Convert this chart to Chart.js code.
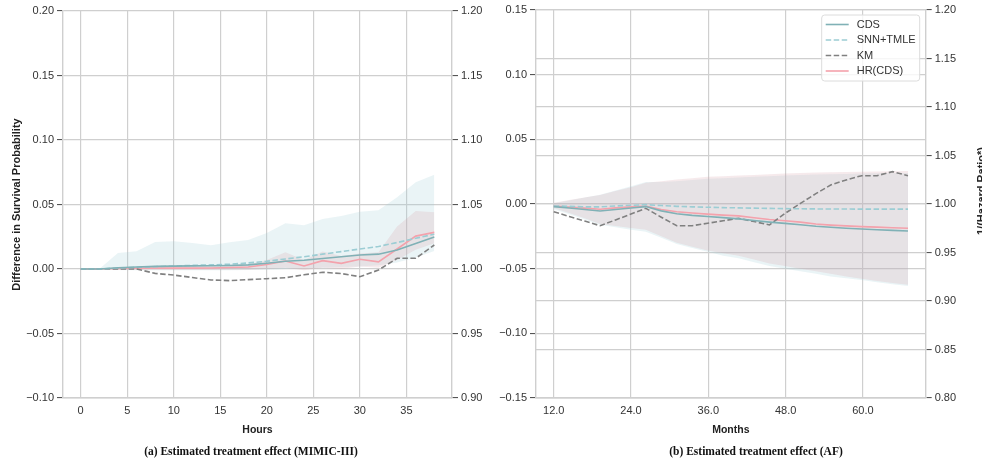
<!DOCTYPE html>
<html>
<head>
<meta charset="utf-8">
<script src="https://cdn.jsdelivr.net/npm/chart.js@4.4.0/dist/chart.umd.min.js"></script>
<style>
  body { margin: 0; width: 982px; height: 462px; overflow: hidden; background: #fff; position: relative; }
  #boxA { position: absolute; left: 0; top: 0; }
  #boxB { position: absolute; left: 490px; top: 0; }
  .caption { position: absolute; top: 443px; width: 240px; text-align: center;
             font: bold 11.5px 'Liberation Serif', 'Times New Roman', serif; color: #111; line-height: 16px; }
  #hrTitle { position: absolute; left: 981px; top: 191px; transform: translate(-50%, -50%) rotate(-90deg);
             font: bold 11px 'Liberation Sans', Arial, sans-serif; color: #222; white-space: nowrap; }
</style>
</head>
<body>
<div id="boxA"><canvas id="chartA" width="490" height="462"></canvas></div>
<div id="boxB"><canvas id="chartB" width="492" height="462"></canvas></div>
<div class="caption" style="left:131px">(a) Estimated treatment effect (MIMIC-III)</div>
<div class="caption" style="left:636px">(b) Estimated treatment effect (AF)</div>
<div id="hrTitle">1/(Hazard Ratio*)</div>
<script>
// ---- (a) MIMIC-III, hours ----
const hoursA = [0, 2, 4, 6, 8, 10, 12, 14, 16, 18, 20, 22, 24, 26, 28, 30, 32, 34, 36, 38];
const cdsA   = [0, 0, 0.001, 0.0015, 0.002, 0.0022, 0.0024, 0.0025, 0.0027, 0.0032, 0.0045, 0.006, 0.0068, 0.0082, 0.0095, 0.0108, 0.0115, 0.0147, 0.0198, 0.0248];
const cdsHiA = [0, 0, 0.0125, 0.0138, 0.021, 0.0215, 0.0202, 0.0185, 0.0208, 0.0225, 0.028, 0.0354, 0.034, 0.0388, 0.041, 0.0444, 0.0455, 0.0556, 0.0672, 0.0731];
const cdsLoA = [0, 0, -0.0008, -0.001, -0.001, -0.001, -0.001, -0.001, -0.001, -0.0008, -0.0005, 0, 0.0005, 0.001, 0.0015, 0.002, 0.003, 0.005, 0.009, 0.014];
const snnA   = [0, 0, 0.0008, 0.0013, 0.0018, 0.0023, 0.0028, 0.0032, 0.0037, 0.0047, 0.006, 0.0078, 0.0095, 0.0115, 0.0135, 0.0155, 0.0175, 0.0205, 0.0238, 0.027];
const kmA    = [0, 0, 0, 0, -0.0034, -0.0047, -0.0066, -0.0085, -0.009, -0.0082, -0.0075, -0.0068, -0.0045, -0.0025, -0.0035, -0.006, -0.0008, 0.0083, 0.0083, 0.0186];
const hrA    = [0, 0, 0.0004, 0.0006, 0.0007, 0.0007, 0.0007, 0.0008, 0.0012, 0.0015, 0.0035, 0.0062, 0.0023, 0.0065, 0.0044, 0.0075, 0.0055, 0.0155, 0.0255, 0.0284];
const hrHiA  = [0, 0, 0.0012, 0.0015, 0.0025, 0.0025, 0.0025, 0.0025, 0.003, 0.0035, 0.007, 0.013, 0.007, 0.0135, 0.01, 0.012, 0.013, 0.033, 0.045, 0.044];
const hrLoA  = [0, 0, -0.0005, -0.0008, -0.0008, -0.0008, -0.0008, -0.0008, -0.0006, -0.0005, 0, 0.001, -0.001, 0.001, 0, 0.002, 0.001, 0.007, 0.015, 0.02];

const xTicksA  = [0, 5, 10, 15, 20, 25, 30, 35];
const yTicksA  = [-0.10, -0.05, 0.00, 0.05, 0.10, 0.15, 0.20];
const y2TicksA = [0.90, 0.95, 1.00, 1.05, 1.10, 1.15, 1.20];

// ---- (b) AF, months ----
const monthsB = [12.0, 14.4, 16.8, 19.2, 21.6, 24.0, 26.3, 28.7, 31.1, 33.5, 35.9, 38.3, 40.7, 43.1, 45.5, 47.9, 50.3, 52.7, 55.0, 57.4, 59.8, 62.2, 64.6, 67.0];
const cdsB   = [-0.002, -0.0031, -0.0043, -0.0054, -0.0043, -0.0031, -0.002, -0.0053, -0.0075, -0.0088, -0.0097, -0.0105, -0.0115, -0.0128, -0.014, -0.015, -0.016, -0.0172, -0.018, -0.0187, -0.0193, -0.0199, -0.0204, -0.0209];
const cdsHiB = [0.0005, 0.0028, 0.005, 0.0072, 0.0105, 0.0138, 0.017, 0.017, 0.0175, 0.0185, 0.0195, 0.02, 0.0205, 0.021, 0.0215, 0.022, 0.0225, 0.0228, 0.023, 0.0232, 0.0235, 0.0237, 0.024, 0.024];
const cdsLoB = [-0.004, -0.008, -0.012, -0.016, -0.018, -0.02, -0.0214, -0.026, -0.031, -0.034, -0.037, -0.04, -0.042, -0.045, -0.048, -0.05, -0.052, -0.054, -0.056, -0.0575, -0.0588, -0.0605, -0.062, -0.0634];
const snnB   = [-0.0015, -0.0018, -0.0022, -0.0022, -0.0015, -0.001, -0.0005, -0.0012, -0.0018, -0.0022, -0.0025, -0.0028, -0.003, -0.0032, -0.0034, -0.0036, -0.0037, -0.0038, -0.0039, -0.0039, -0.004, -0.004, -0.004, -0.004];
const kmB    = [-0.006, -0.0096, -0.0132, -0.0168, -0.0123, -0.0078, -0.0033, -0.0102, -0.0168, -0.0168, -0.0149, -0.013, -0.011, -0.0136, -0.0162, -0.0073, 0.0005, 0.008, 0.0147, 0.0186, 0.0219, 0.0219, 0.025, 0.0219];
const hrB    = [-0.0015, -0.0024, -0.0032, -0.004, -0.003, -0.0022, -0.0015, -0.0042, -0.006, -0.007, -0.0078, -0.0086, -0.0092, -0.0106, -0.012, -0.013, -0.014, -0.0155, -0.0163, -0.0169, -0.0175, -0.0179, -0.0184, -0.0188];
const hrHiB  = [0.001, 0.003, 0.005, 0.007, 0.01, 0.013, 0.0165, 0.0175, 0.019, 0.02, 0.021, 0.0215, 0.022, 0.0225, 0.023, 0.0235, 0.024, 0.0243, 0.0246, 0.0248, 0.025, 0.0252, 0.0254, 0.0255];
const hrLoB  = [-0.003, -0.007, -0.011, -0.0155, -0.017, -0.0185, -0.02, -0.025, -0.03, -0.033, -0.036, -0.038, -0.04, -0.043, -0.046, -0.048, -0.05, -0.052, -0.054, -0.056, -0.0578, -0.0595, -0.061, -0.0625];

const xTicksB  = [12, 24, 36, 48, 60];
const yTicksB  = [-0.15, -0.10, -0.05, 0.00, 0.05, 0.10, 0.15];
const y2TicksB = [0.80, 0.85, 0.90, 0.95, 1.00, 1.05, 1.10, 1.15, 1.20];

// ---- styling ----
const GRID = '#cfcfcf';
const TEXT = '#333333';
const C_CDS = '#80b1b6';
const C_SNN = '#9ccdd4';
const C_KM = '#808080';
const C_HR = '#f4a2ac';
const BAND_CDS = 'rgba(160, 205, 212, 0.22)';
const BAND_HR = 'rgba(215, 160, 170, 0.22)';

Chart.defaults.font.family = "'Liberation Sans', Arial, sans-serif";
Chart.defaults.font.size = 11;
Chart.defaults.color = TEXT;

function fmt(v, d) {
  return v.toFixed(d).replace('-', '\u2212');
}

function pts(xs, ys) {
  return xs.map((x, i) => ({x: x, y: ys[i]}));
}

function line(label, xs, ys, color, dashed) {
  return {
    label: label,
    data: pts(xs, ys),
    borderColor: color,
    borderWidth: 1.6,
    borderDash: dashed ? [5.5, 2.5] : [],
    pointRadius: 0,
    fill: false,
    tension: 0
  };
}

// upper edge fills down to the next dataset (the lower edge)
function band(xs, hi, lo, color) {
  return [
    {label: '', data: pts(xs, hi), borderWidth: 0, pointRadius: 0, backgroundColor: color, fill: '+1'},
    {label: '', data: pts(xs, lo), borderWidth: 0, pointRadius: 0, fill: false}
  ];
}

function setTicks(values) {
  return scale => { scale.ticks = values.map(v => ({value: v})); };
}

function yAxis(pos, min, max, values, width, onArea, title) {
  return {
    type: 'linear',
    position: pos,
    min: min,
    max: max,
    afterBuildTicks: setTicks(values),
    afterFit: scale => { scale.width = width; },
    ticks: {padding: 3, color: TEXT, callback: v => fmt(v, 2)},
    grid: {color: GRID, lineWidth: 1.2, drawOnChartArea: onArea, tickLength: 6, tickColor: '#444', tickWidth: 1},
    border: {color: GRID, width: 1.4},
    title: title
  };
}

function xAxis(min, max, values, digits, text) {
  return {
    type: 'linear',
    min: min,
    max: max,
    afterBuildTicks: setTicks(values),
    afterFit: scale => { scale.height = 64; },
    ticks: {padding: 6, color: TEXT, maxRotation: 0, callback: v => digits ? v.toFixed(digits) : String(v)},
    grid: {color: GRID, lineWidth: 1.2, drawTicks: false},
    border: {color: GRID, width: 1.4},
    title: {display: true, text: text, color: '#222', font: {weight: 'bold', size: 10.5}, padding: {top: 0, bottom: 25.7}}
  };
}

// legend drawn inside the plot, top right, like matplotlib's
const insideLegend = {
  id: 'insideLegend',
  afterDraw(chart) {
    const ctx = chart.ctx;
    const area = chart.chartArea;
    const items = chart.data.datasets.filter(d => d.label);
    const w = 98, h = 66, rowH = 15.5;
    const x0 = area.right - 6 - w;
    const y0 = area.top + 5;
    ctx.save();
    ctx.beginPath();
    if (ctx.roundRect) ctx.roundRect(x0, y0, w, h, 3); else ctx.rect(x0, y0, w, h);
    ctx.fillStyle = 'rgba(255, 255, 255, 0.8)';
    ctx.fill();
    ctx.strokeStyle = '#dcdcdc';
    ctx.lineWidth = 1;
    ctx.stroke();
    ctx.font = "11px 'Liberation Sans', Arial, sans-serif";
    ctx.textBaseline = 'middle';
    items.forEach((d, i) => {
      const y = y0 + 9.5 + i * rowH;
      ctx.beginPath();
      ctx.setLineDash(d.borderDash);
      ctx.strokeStyle = d.borderColor;
      ctx.lineWidth = d.borderWidth;
      ctx.moveTo(x0 + 4, y);
      ctx.lineTo(x0 + 27, y);
      ctx.stroke();
      ctx.setLineDash([]);
      ctx.fillStyle = TEXT;
      ctx.fillText(d.label, x0 + 35, y);
    });
    ctx.restore();
  }
};

const common = {
  responsive: false,
  animation: false,
  devicePixelRatio: 1,
  plugins: {legend: {display: false}, tooltip: {enabled: false}}
};

let ctxA = document.getElementById('chartA').getContext('2d');
let chartA = new Chart(ctxA, {
  type: 'line',
  data: {
    datasets: [
      line('CDS', hoursA, cdsA, C_CDS, false),
      line('SNN+TMLE', hoursA, snnA, C_SNN, true),
      line('KM', hoursA, kmA, C_KM, true),
      line('HR(CDS)', hoursA, hrA, C_HR, false),
      ...band(hoursA, hrHiA, hrLoA, BAND_HR),
      ...band(hoursA, cdsHiA, cdsLoA, BAND_CDS)
    ]
  },
  options: {
    ...common,
    layout: {padding: {top: 11, left: 0, right: 0, bottom: 0}},
    scales: {
      x: xAxis(-1.9, 39.9, xTicksA, 0, 'Hours'),
      y: yAxis('left', -0.10, 0.20, yTicksA, 63, true, {
        display: true, text: 'Difference in Survival Probability', color: '#222',
        font: {weight: 'bold', size: 11}, padding: {top: 10, bottom: 0}
      }),
      y2: yAxis('right', 0.90, 1.20, y2TicksA, 38, false, {display: false})
    }
  }
});

let ctxB = document.getElementById('chartB').getContext('2d');
let chartB = new Chart(ctxB, {
  type: 'line',
  data: {
    datasets: [
      line('CDS', monthsB, cdsB, C_CDS, false),
      line('SNN+TMLE', monthsB, snnB, C_SNN, true),
      line('KM', monthsB, kmB, C_KM, true),
      line('HR(CDS)', monthsB, hrB, C_HR, false),
      ...band(monthsB, hrHiB, hrLoB, BAND_HR),
      ...band(monthsB, cdsHiB, cdsLoB, BAND_CDS)
    ]
  },
  options: {
    ...common,
    layout: {padding: {top: 10, left: 0, right: 0, bottom: 0}},
    scales: {
      x: xAxis(9.25, 69.75, xTicksB, 1, 'Months'),
      y: yAxis('left', -0.15, 0.15, yTicksB, 46, true, {display: false}),
      y2: yAxis('right', 0.80, 1.20, y2TicksB, 56.3, true, {display: false})
    }
  },
  plugins: [insideLegend]
});
</script>
</body>
</html>
